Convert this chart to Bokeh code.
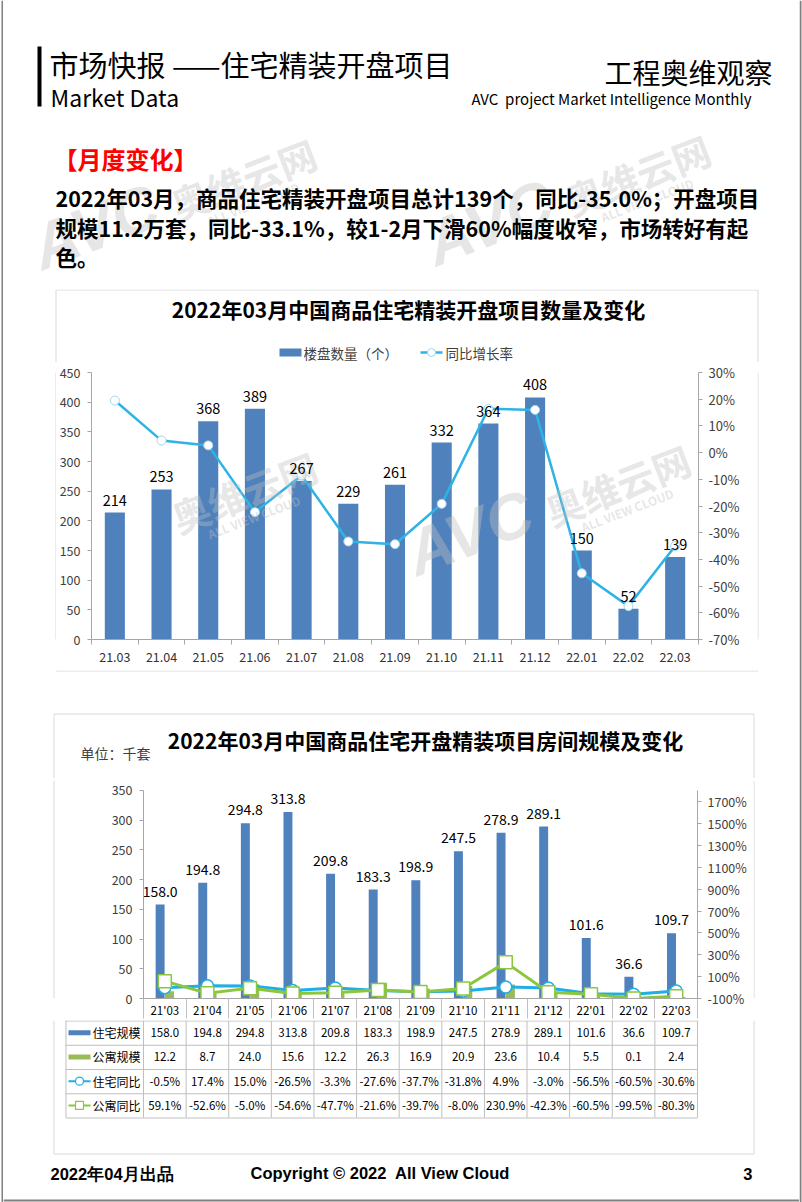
import numpy as np
from bokeh.plotting import figure
from bokeh.models import (Range1d, LinearAxis, FixedTicker, PrintfTickFormatter,
                          ColumnDataSource, LabelSet)
from bokeh.layouts import column, row
from bokeh.embed import file_html
from bokeh.resources import INLINE
from bokeh.core.properties import value

# ---------------- data ----------------
months_1 = ["21.03", "21.04", "21.05", "21.06", "21.07", "21.08", "21.09",
            "21.10", "21.11", "21.12", "22.01", "22.02", "22.03"]
project_counts = [214, 253, 368, 389, 267, 229, 261, 332, 364, 408, 150, 52, 139]
project_yoy = [19.5, 4.5, 2.7, -22.3, -8.6, -33.3, -34.3, -19.2, 16.4, 16.0, -45.2, -57.5, -35.0]
count_ticks = [0, 50, 100, 150, 200, 250, 300, 350, 400, 450]
count_yoy_ticks = [-70, -60, -50, -40, -30, -20, -10, 0, 10, 20, 30]

months_2 = ["21'03", "21'04", "21'05", "21'06", "21'07", "21'08", "21'09",
            "21'10", "21'11", "21'12", "22'01", "22'02", "22'03"]
res_units = [158.0, 194.8, 294.8, 313.8, 209.8, 183.3, 198.9, 247.5, 278.9, 289.1, 101.6, 36.6, 109.7]
apt_units = [12.2, 8.7, 24.0, 15.6, 12.2, 26.3, 16.9, 20.9, 23.6, 10.4, 5.5, 0.1, 2.4]
res_yoy = [-0.5, 17.4, 15.0, -26.5, -3.3, -27.6, -37.7, -31.8, 4.9, -3.0, -56.5, -60.5, -30.6]
apt_yoy = [59.1, -52.6, -5.0, -54.6, -47.7, -21.6, -39.7, -8.0, 230.9, -42.3, -60.5, -99.5, -80.3]
unit_ticks = [0, 50, 100, 150, 200, 250, 300, 350]
unit_yoy_ticks = [-100, 100, 300, 500, 700, 900, 1100, 1300, 1500, 1700]
unit_axis_max = 350
unit_yoy_axis = (-100, 1806)
table_rows = ["住宅规模", "公寓规模", "住宅同比", "公寓同比"]

# ---------------- styles ----------------
CJK = "Noto Sans CJK SC"
BLUE_BAR = "#4F81BD"
GREEN_BAR = "#9BBB59"
LINE1 = "#2DB3E6"
RES_LINE = "#1FAEE6"
APT_LINE = "#8CC63E"
AXIS = "#A6A6A6"
GRID = "#BFBFBF"
BOX = "#D9D9D9"
TXT = "#404040"
PAGE_BORDER = "#808080"
WM_COLOR = "#C0C0C0"
W = 802
H = 1202
EDGE = 3
NBSP = "\u00a0"

n = len(months_1)
centers = np.arange(n) + 0.5
bounds = list(range(n + 1))


def band(x0, x1, y0, y1):
    f = figure(width=x1 - x0, height=y1 - y0, x_range=Range1d(x0, x1), y_range=Range1d(y1, y0),
               output_backend="svg", toolbar_location=None, tools="", min_border=0,
               x_axis_type=None, y_axis_type=None)
    f.outline_line_color = None
    f.background_fill_color = "white"
    f.border_fill_color = "white"
    return f


def txt(f, x, y, s, size, bold=False, color="#000000", align="left", font=CJK,
        baseline="middle", angle=0.0, alpha=1.0, style=None, **kw):
    f.text(x=[x], y=[y], text=[s], text_font=value(font), text_font_size=f"{size}px",
           text_font_style=style or ("bold" if bold else "normal"), text_color=color,
           text_align=align, text_baseline=baseline, angle=angle, text_alpha=alpha, **kw)


def seg(f, x0, y0, x1, y1, color, w=1):
    f.segment(x0=[x0], y0=[y0], x1=[x1], y1=[y1], line_color=color, line_width=w)


def watermark(f, ox, oy, parts=("avc", "cjk", "small"), **kw):
    th = np.deg2rad(21)
    u = np.array([np.cos(th), -np.sin(th)])      # along the baseline (page y points down)
    up = np.array([-np.sin(th), -np.cos(th)])    # towards the top of the glyphs
    o = np.array([ox, oy])
    wa, ca = 135, 46
    c1 = o + u * wa / 2 + up * ca / 2
    c2 = o + u * (wa + 12 + 76) + up * 15
    c3 = o + u * (wa + 12 + 76) - up * 12
    if "avc" in parts:
        txt(f, c1[0], c1[1], "AVC", 64, font="Liberation Sans", style="bold italic",
            color=WM_COLOR, align="center", angle=th, alpha=0.4, **kw)
    if "cjk" in parts:
        txt(f, c2[0], c2[1], "奥维云网", 38, bold=True, color=WM_COLOR, align="center",
            angle=th, alpha=0.4, **kw)
    if "small" in parts:
        txt(f, c3[0], c3[1], "ALL VIEW CLOUD", 12, bold=True, color=WM_COLOR, align="center",
            angle=th, alpha=0.4, **kw)


def style_axis(ax, size="12.5px"):
    ax.axis_line_color = AXIS
    ax.major_tick_line_color = AXIS
    ax.minor_tick_line_color = AXIS
    ax.major_label_text_font = CJK
    ax.major_label_text_font_size = size
    ax.major_label_text_color = TXT
    ax.major_tick_in = 0
    ax.minor_tick_in = 0
    ax.minor_tick_out = 0


# page layout (pixels)
BOX1 = dict(l=55.5, r=757.5, t=289.5, b=670.5)
BOX2 = dict(l=53.5, r=753.5, t=713.5, b=1153.5)
C1 = dict(left=90, right=698, top=372, bottom=639)
C2 = dict(left=143, right=697, top=780, tick_top=790, bottom=1000)
Y_A, Y_B, Y_C, Y_D, Y_E, Y_F, Y_END = 0, 289, 362, 670, 716, 778, 1020
XL, XR = EDGE, W - EDGE
SL = 56           # left strip right edge
C1_R = 757        # chart-1 figure right edge
C2_R = 753        # chart-2 figure right edge
TABLE_TOP, TABLE_BOTTOM = 1020, 1117
ROW_H = (TABLE_BOTTOM - TABLE_TOP) / 4
TABLE_LEFT = 65

# ---------------- page edges ----------------
edge_l = band(0, EDGE, 0, H)
edge_l.quad(left=[1], right=[3], top=[0], bottom=[H], fill_color=PAGE_BORDER, line_color=None)
edge_r = band(W - EDGE, W, 0, H)
edge_r.quad(left=[W - 3], right=[W - 1], top=[0], bottom=[H], fill_color=PAGE_BORDER,
            line_color=None)

# ---------------- band A: header ----------------
fa = band(XL, XR, Y_A, Y_B)
watermark(fa, 40, 272)
watermark(fa, 434, 268)
fa.quad(left=[37], right=[41], top=[46], bottom=[106], fill_color="#000000", line_color=None)
txt(fa, 49, 63, "市场快报 ——住宅精装开盘项目", 29)
txt(fa, 50, 96, "Market Data", 23)
txt(fa, 772, 71, "工程奥维观察", 28, align="right")
txt(fa, 751, 98, "AVC" + NBSP + " project Market Intelligence Monthly", 15, align="right")
txt(fa, 53, 158, "【月度变化】", 24, bold=True, color="#FF0000")
para = ["2022年03月，商品住宅精装开盘项目总计139个，同比-35.0%；开盘项目",
        "规模11.2万套，同比-33.1%，较1-2月下滑60%幅度收窄，市场转好有起",
        "色。"]
for i, line in enumerate(para):
    txt(fa, 55, 197 + 29.5 * i, line, 21.5, bold=True)

# ---------------- band B: chart-1 title + legend ----------------
fb = band(XL, XR, Y_B, Y_C)
seg(fb, BOX1["l"], BOX1["t"], BOX1["r"], BOX1["t"], BOX)
seg(fb, BOX1["l"], BOX1["t"], BOX1["l"], Y_C, BOX)
seg(fb, BOX1["r"], BOX1["t"], BOX1["r"], Y_C, BOX)
txt(fb, 408, 308, "2022年03月中国商品住宅精装开盘项目数量及变化", 21, bold=True, align="center")
fb.quad(left=[279], right=[301], top=[348], bottom=[356], fill_color=BLUE_BAR, line_color=None)
txt(fb, 303, 352, "楼盘数量（个）", 13.5, color=TXT)
seg(fb, 420, 352, 442, 352, LINE1, 2.5)
fb.scatter(x=[431], y=[352], marker="circle", size=8, fill_color="white",
           line_color="#9ED8F0", line_width=1)
txt(fb, 445, 352, "同比增长率", 13.5, color=TXT)

# ---------------- chart 1 ----------------
fig1 = figure(width=C1_R - SL, height=Y_D - Y_C, x_range=Range1d(0, n), y_range=Range1d(0, 450),
              output_backend="svg", toolbar_location=None, tools="",
              min_border_left=C1["left"] - SL, min_border_right=C1_R - C1["right"],
              min_border_top=C1["top"] - Y_C, min_border_bottom=Y_D - C1["bottom"])
fig1.extra_y_ranges = {"pct": Range1d(-70, 30), "py": Range1d(C1["bottom"], C1["top"])}
fig1.extra_x_ranges = {"px": Range1d(C1["left"], C1["right"])}
fig1.outline_line_color = None
fig1.xgrid.visible = False
fig1.ygrid.visible = False

xa = fig1.xaxis[0]
style_axis(xa, "12.5px")
xa.ticker = FixedTicker(ticks=list(centers), minor_ticks=bounds)
xa.major_label_overrides = {float(c): m for c, m in zip(centers, months_1)}
xa.major_tick_out = 0
xa.minor_tick_out = 5
xa.major_label_standoff = 7
xa.major_label_text_color = "#333333"

ya = fig1.yaxis[0]
style_axis(ya, "12.5px")
ya.ticker = FixedTicker(ticks=count_ticks)
ya.major_tick_out = 4
ya.major_label_standoff = 7

ra = LinearAxis(y_range_name="pct", ticker=FixedTicker(ticks=count_yoy_ticks),
                formatter=PrintfTickFormatter(format="%d%%"))
style_axis(ra, "13px")
ra.major_tick_out = 4
ra.major_label_standoff = 6
fig1.add_layout(ra, "right")

src1 = ColumnDataSource(dict(x=centers, count=project_counts, yoy=project_yoy,
                             label=[str(v) for v in project_counts]))
fig1.vbar(x="x", top="count", width=0.43, source=src1, fill_color=BLUE_BAR, line_color=None)
fig1.line("x", "yoy", source=src1, y_range_name="pct", line_color=LINE1, line_width=2.5)
fig1.scatter("x", "yoy", source=src1, y_range_name="pct", marker="circle", size=9,
             fill_color="white", line_color="#9ED8F0", line_width=1)
watermark(fig1, 40, 585, parts=("cjk", "small"), x_range_name="px", y_range_name="py")
watermark(fig1, 414, 578, x_range_name="px", y_range_name="py")
fig1.add_layout(LabelSet(x="x", y="count", text="label", source=src1, y_offset=7,
                         text_align="center", text_baseline="bottom",
                         text_font=value(CJK), text_font_size="14.5px", text_color="black"))

sl1 = band(XL, SL, Y_C, Y_D)
seg(sl1, BOX1["l"], Y_C, BOX1["l"], Y_D, BOX)
sr1 = band(C1_R, XR, Y_C, Y_D)
seg(sr1, BOX1["r"], Y_C, BOX1["r"], Y_D, BOX)

# ---------------- band D: gap between the charts ----------------
fd = band(XL, XR, Y_D, Y_E)
seg(fd, BOX1["l"], BOX1["b"], BOX1["r"], BOX1["b"], BOX)
seg(fd, BOX1["l"], Y_D, BOX1["l"], BOX1["b"], BOX)
seg(fd, BOX1["r"], Y_D, BOX1["r"], BOX1["b"], BOX)
seg(fd, BOX2["l"], BOX2["t"], BOX2["r"], BOX2["t"], BOX)
seg(fd, BOX2["l"], BOX2["t"], BOX2["l"], Y_E, BOX)
seg(fd, BOX2["r"], BOX2["t"], BOX2["r"], Y_E, BOX)

# ---------------- band E: chart-2 title ----------------
fe = band(XL, XR, Y_E, Y_F)
seg(fe, BOX2["l"], Y_E, BOX2["l"], Y_F, BOX)
seg(fe, BOX2["r"], Y_E, BOX2["r"], Y_F, BOX)
txt(fe, 425, 739, "2022年03月中国商品住宅开盘精装项目房间规模及变化", 21, bold=True, align="center")
txt(fe, 80, 752, "单位：千套", 14, color=TXT)

# ---------------- chart 2 ----------------
ext = (C2["bottom"] - C2["top"]) / (C2["bottom"] - C2["tick_top"])
fig2 = figure(width=C2_R - SL, height=Y_END - Y_F, x_range=Range1d(0, n),
              y_range=Range1d(0, unit_axis_max * ext),
              output_backend="svg", toolbar_location=None, tools="",
              min_border_left=C2["left"] - SL, min_border_right=C2_R - C2["right"],
              min_border_top=C2["top"] - Y_F, min_border_bottom=Y_END - C2["bottom"])
lo, hi = unit_yoy_axis
fig2.extra_y_ranges = {"pct": Range1d(lo, lo + (hi - lo) * ext)}
fig2.outline_line_color = None
fig2.xgrid.visible = False
fig2.ygrid.visible = False

xb = fig2.xaxis[0]
style_axis(xb, "11.5px")
xb.ticker = FixedTicker(ticks=list(centers), minor_ticks=bounds)
xb.major_label_overrides = {float(c): m for c, m in zip(centers, months_2)}
xb.major_tick_out = 0
xb.minor_tick_out = TABLE_TOP - C2["bottom"]
xb.minor_tick_line_color = GRID
xb.major_label_standoff = -(TABLE_TOP - C2["bottom"]) + 3
xb.major_label_text_color = "#000000"

yb = fig2.yaxis[0]
style_axis(yb, "12.5px")
yb.ticker = FixedTicker(ticks=unit_ticks)
yb.bounds = (0, unit_axis_max)
yb.major_tick_out = 4
yb.major_label_standoff = 7

rb = LinearAxis(y_range_name="pct", ticker=FixedTicker(ticks=unit_yoy_ticks),
                formatter=PrintfTickFormatter(format="%d%%"), bounds=unit_yoy_axis)
style_axis(rb, "12.5px")
rb.major_tick_out = 4
rb.major_label_standoff = 6
fig2.add_layout(rb, "right")

dodge = 0.11
src2 = ColumnDataSource(dict(xr=centers - dodge, xa=centers + dodge, x=centers,
                             res=res_units, apt=apt_units, ryoy=res_yoy, ayoy=apt_yoy,
                             label=[f"{v:.1f}" for v in res_units]))
fig2.vbar(x="xr", top="res", width=0.21, source=src2, fill_color=BLUE_BAR, line_color=None)
fig2.vbar(x="xa", top="apt", width=0.21, source=src2, fill_color=GREEN_BAR, line_color=None)
fig2.line("x", "ryoy", source=src2, y_range_name="pct", line_color=RES_LINE, line_width=3)
fig2.scatter("x", "ryoy", source=src2, y_range_name="pct", marker="circle", size=12,
             fill_color="white", line_color=RES_LINE, line_width=1.5)
fig2.line("x", "ayoy", source=src2, y_range_name="pct", line_color=APT_LINE, line_width=3)
fig2.scatter("x", "ayoy", source=src2, y_range_name="pct", marker="square", size=13,
             fill_color="white", line_color=APT_LINE, line_width=1.5)
fig2.add_layout(LabelSet(x="xr", y="res", text="label", source=src2, y_offset=8,
                         text_align="center", text_baseline="bottom",
                         text_font=value(CJK), text_font_size="14px", text_color="black"))

sl2 = band(XL, SL, Y_F, Y_END)
seg(sl2, BOX2["l"], Y_F, BOX2["l"], Y_END, BOX)
sr2 = band(C2_R, XR, Y_F, Y_END)
seg(sr2, BOX2["r"], Y_F, BOX2["r"], Y_END, BOX)

# ---------------- band F: table + footer ----------------
ff = band(XL, XR, Y_END, H)
span = C2["right"] - C2["left"]
ff.extra_x_ranges = {"cat": Range1d(0 - (C2["left"] - XL) * n / span,
                                    n + (XR - C2["right"]) * n / span)}
ff.quad(left=[XL], right=[XR], top=[H - 3], bottom=[H - 1], fill_color=PAGE_BORDER,
        line_color=None)
seg(ff, BOX2["l"], Y_END, BOX2["l"], BOX2["b"], BOX)
seg(ff, BOX2["r"], Y_END, BOX2["r"], BOX2["b"], BOX)
seg(ff, BOX2["l"], BOX2["b"], BOX2["r"], BOX2["b"], BOX)

row_edges = [TABLE_TOP + 0.5 + ROW_H * i for i in range(5)]
ff.segment(x0=[TABLE_LEFT] * 5, y0=row_edges, x1=[C2["right"]] * 5, y1=row_edges,
           line_color=GRID, line_width=1)
seg(ff, TABLE_LEFT + 0.5, TABLE_TOP, TABLE_LEFT + 0.5, TABLE_BOTTOM, GRID)
ff.segment(x0=bounds, y0=[TABLE_TOP] * (n + 1), x1=bounds, y1=[TABLE_BOTTOM] * (n + 1),
           x_range_name="cat", line_color=GRID, line_width=1)

row_centres = [TABLE_TOP + ROW_H * (i + 0.5) for i in range(4)]
cell_text = ([f"{v:.1f}" for v in res_units] + [f"{v:.1f}" for v in apt_units] +
             [f"{v:.1f}%" for v in res_yoy] + [f"{v:.1f}%" for v in apt_yoy])
tsrc = ColumnDataSource(dict(x=list(centers) * 4,
                             y=[row_centres[i] for i in range(4) for _ in range(n)],
                             t=cell_text))
ff.text(x="x", y="y", text="t", source=tsrc, x_range_name="cat", text_align="center",
        text_baseline="middle", text_font=value(CJK), text_font_size="11.5px",
        text_color="#000000")

# row keys
KX0, KX1 = 68, 90
ff.quad(left=[KX0] * 2, right=[KX1] * 2, top=[row_centres[0] - 2.5, row_centres[1] - 2.5],
        bottom=[row_centres[0] + 2.5, row_centres[1] + 2.5],
        fill_color=[BLUE_BAR, GREEN_BAR], line_color=None)
seg(ff, KX0, row_centres[2], KX1, row_centres[2], RES_LINE, 2)
ff.scatter(x=[(KX0 + KX1) / 2], y=[row_centres[2]], marker="circle", size=8,
           fill_color="white", line_color=RES_LINE, line_width=1.2)
seg(ff, KX0, row_centres[3], KX1, row_centres[3], APT_LINE, 2)
ff.scatter(x=[(KX0 + KX1) / 2], y=[row_centres[3]], marker="square", size=8,
           fill_color="white", line_color=APT_LINE, line_width=1.2)
for i, name in enumerate(table_rows):
    txt(ff, KX1 + 2, row_centres[i], name, 12)

txt(ff, 50, 1173, "2022年04月出品", 16.5, bold=True, font="Liberation Sans")
txt(ff, 250, 1172, "Copyright © 2022" + NBSP + " All View Cloud", 16.5, bold=True,
    font="Liberation Sans")
txt(ff, 752, 1173, "3", 16.5, bold=True, align="right", font="Liberation Sans")

content = column(fa, fb, row(sl1, fig1, sr1), fd, fe, row(sl2, fig2, sr2), ff)
layout = row(edge_l, content, edge_r)
open("out.html", "w").write(file_html(layout, INLINE))
